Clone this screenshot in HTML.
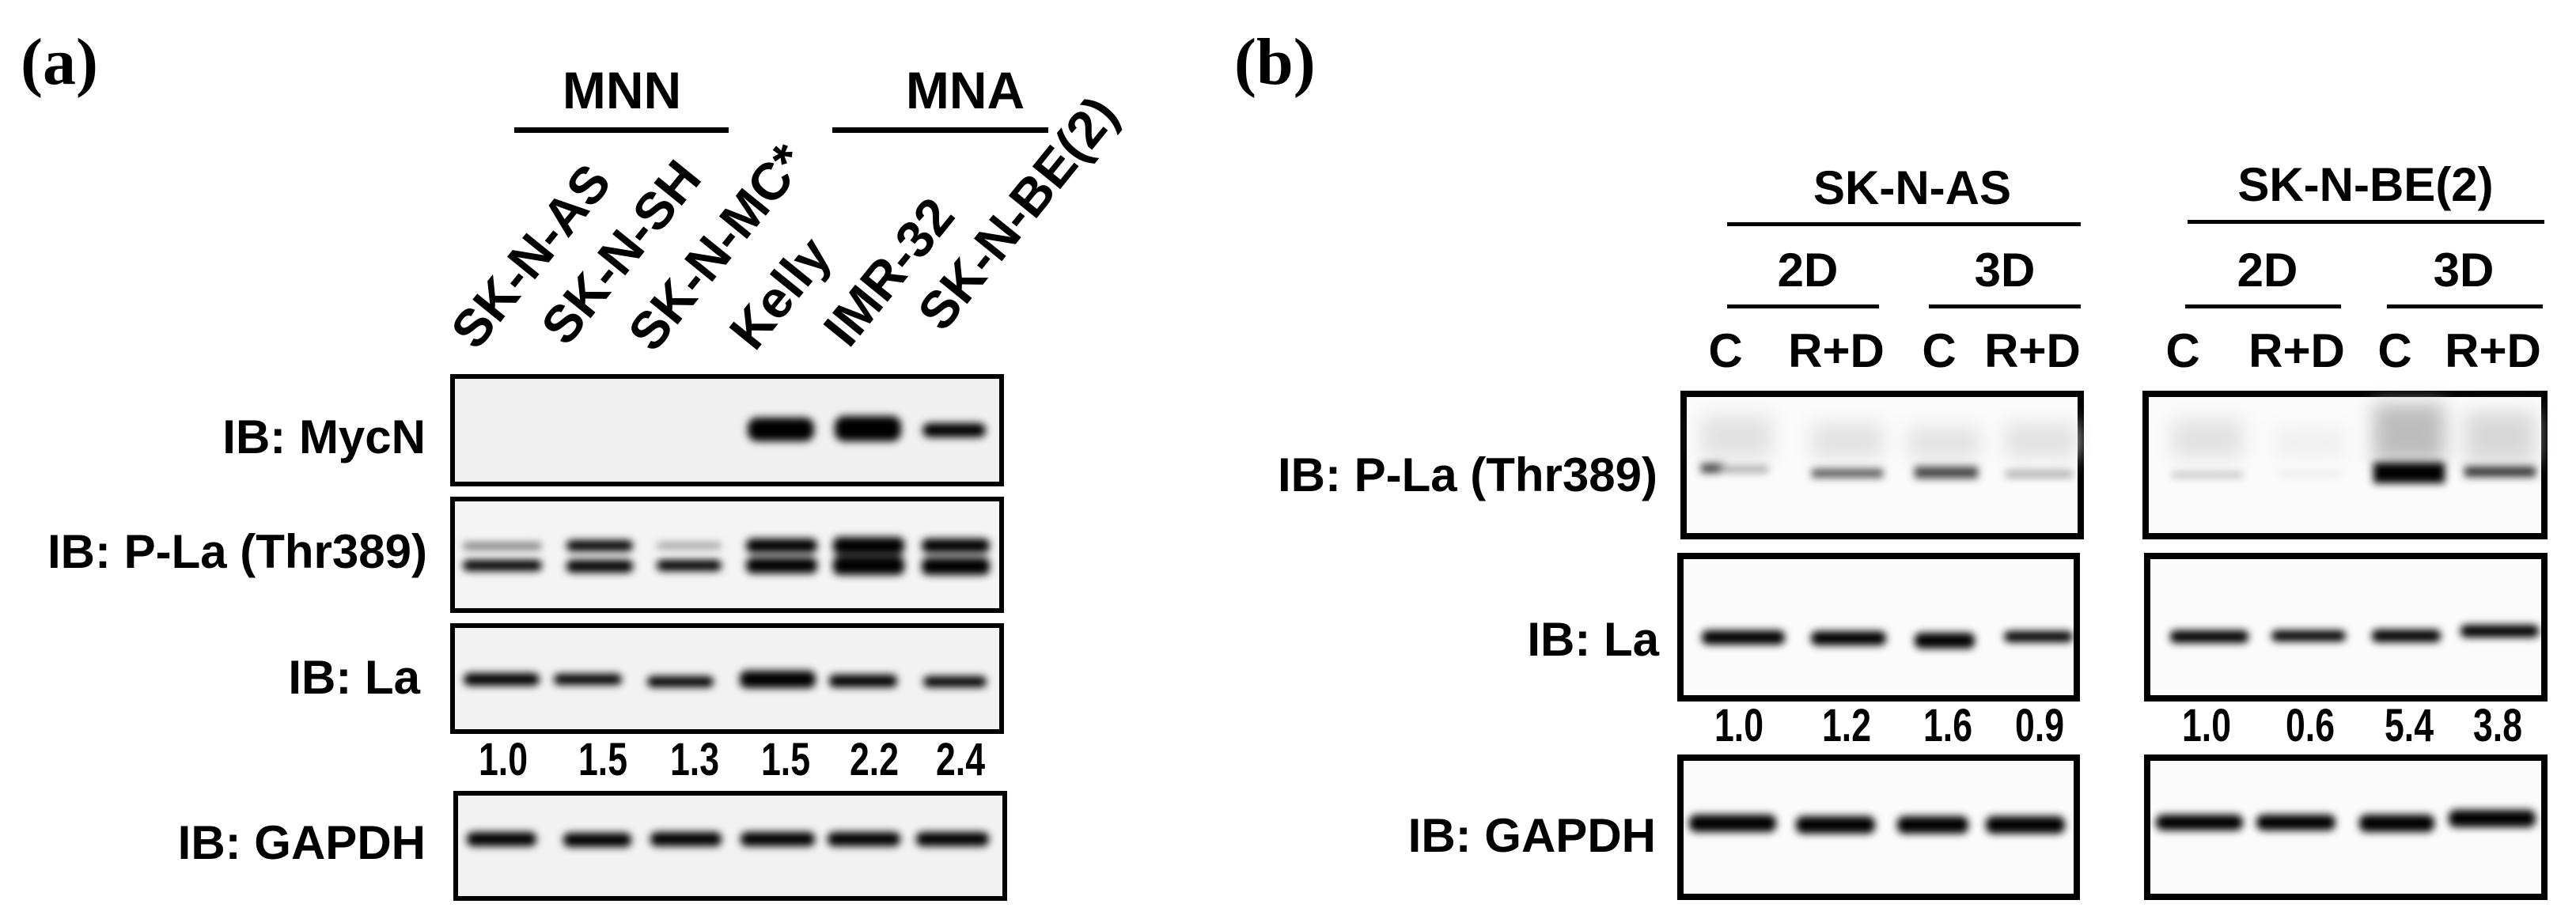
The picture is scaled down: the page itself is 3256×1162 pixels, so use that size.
<!DOCTYPE html>
<html><head><meta charset="utf-8"><style>
html,body{margin:0;padding:0;background:#fff;}
svg{display:block;}
text{font-family:"Liberation Sans",sans-serif;font-weight:bold;fill:#000;}
</style></head><body>
<svg width="3256" height="1162" viewBox="0 0 3256 1162" xmlns="http://www.w3.org/2000/svg">
<defs>
<filter id="b" x="-50%" y="-100%" width="200%" height="300%"><feGaussianBlur stdDeviation="5"/></filter>
<filter id="b2" x="-50%" y="-100%" width="200%" height="300%"><feGaussianBlur stdDeviation="12"/></filter>
</defs>
<text x="26" y="106" style="font-family:'Liberation Serif',serif;font-size:84px;">(a)</text>
<text x="1560" y="106" style="font-family:'Liberation Serif',serif;font-size:84px;">(b)</text>

<!-- Panel a headers -->
<text x="786" y="137" font-size="66" text-anchor="middle">MNN</text>
<rect x="650" y="161" width="271" height="7"/>
<text x="1220" y="137" font-size="66" text-anchor="middle">MNA</text>
<rect x="1052" y="161" width="273" height="7"/>

<g font-size="66">
<text transform="translate(602,445) rotate(-51)">SK-N-AS</text>
<text transform="translate(716,440) rotate(-51)">SK-N-SH</text>
<text transform="translate(826,448) rotate(-51)">SK-N-MC*</text>
<text transform="translate(954,446) rotate(-51)">Kelly</text>
<text transform="translate(1073,442) rotate(-51)">IMR-32</text>
<text transform="translate(1192,422) rotate(-51)">SK-N-BE(2)</text>
</g>

<g font-size="60" text-anchor="end">
<text x="538" y="573">IB: MycN</text>
<text x="540" y="718">IB: P-La (Thr389)</text>
<text x="531" y="877">IB: La</text>
<text x="538" y="1086">IB: GAPDH</text>
</g>

<!-- boxes a -->
<rect x="572" y="476" width="694" height="136" fill="#f0f0f0" stroke="#000" stroke-width="6"/>
<rect x="572" y="631" width="694" height="141" fill="#f4f4f4" stroke="#000" stroke-width="6"/>
<rect x="572" y="791" width="694" height="134" fill="#f2f2f2" stroke="#000" stroke-width="6"/>
<rect x="576" y="1003" width="694" height="133" fill="#f2f2f2" stroke="#000" stroke-width="6"/>

<g filter="url(#b)">
<rect x="945" y="528" width="84" height="30" rx="12"/>
<rect x="1055" y="526" width="84" height="32" rx="12"/>
<rect x="1166" y="535" width="80" height="18" rx="9"/>
<rect x="585" y="686" width="100" height="9" rx="5" fill="#777"/>
<rect x="585" y="708" width="100" height="14" rx="7"/>
<rect x="716" y="683" width="84" height="14" rx="7"/>
<rect x="716" y="708" width="84" height="16" rx="7"/>
<rect x="830" y="686" width="82" height="8" rx="5" fill="#999"/>
<rect x="830" y="708" width="82" height="14" rx="7"/>
<rect x="943" y="681" width="90" height="18" rx="8"/>
<rect x="943" y="705" width="90" height="20" rx="8"/>
<rect x="1053" y="679" width="90" height="22" rx="8"/>
<rect x="1053" y="703" width="90" height="24" rx="8"/>
<rect x="1165" y="681" width="86" height="18" rx="8"/>
<rect x="1165" y="705" width="86" height="22" rx="8"/>
<rect x="586" y="851" width="96" height="16" rx="8"/>
<rect x="700" y="852" width="86" height="14" rx="7"/>
<rect x="818" y="855" width="84" height="14" rx="7"/>
<rect x="935" y="848" width="96" height="22" rx="9"/>
<rect x="1048" y="853" width="86" height="16" rx="7"/>
<rect x="1167" y="855" width="80" height="14" rx="7"/>
<rect x="590" y="1052" width="88" height="18" rx="8"/>
<rect x="712" y="1053" width="86" height="18" rx="8"/>
<rect x="822" y="1052" width="90" height="18" rx="8"/>
<rect x="936" y="1052" width="94" height="18" rx="8"/>
<rect x="1046" y="1052" width="92" height="18" rx="8"/>
<rect x="1158" y="1052" width="92" height="18" rx="8"/>
</g>

<g font-size="58" text-anchor="middle">
<text x="636" y="980" textLength="62" lengthAdjust="spacingAndGlyphs">1.0</text>
<text x="762" y="980" textLength="62" lengthAdjust="spacingAndGlyphs">1.5</text>
<text x="878" y="980" textLength="62" lengthAdjust="spacingAndGlyphs">1.3</text>
<text x="993" y="980" textLength="62" lengthAdjust="spacingAndGlyphs">1.5</text>
<text x="1105" y="980" textLength="62" lengthAdjust="spacingAndGlyphs">2.2</text>
<text x="1214" y="980" textLength="62" lengthAdjust="spacingAndGlyphs">2.4</text>
</g>

<!-- Panel b headers -->
<g font-size="60" text-anchor="middle">
<text x="2417" y="258">SK-N-AS</text>
<text x="2990" y="254">SK-N-BE(2)</text>
<text x="2285" y="362">2D</text>
<text x="2534" y="362">3D</text>
<text x="2866" y="362">2D</text>
<text x="3114" y="362">3D</text>
<text x="2181" y="464">C</text>
<text x="2321" y="464">R+D</text>
<text x="2451" y="464">C</text>
<text x="2569" y="464">R+D</text>
<text x="2759" y="464">C</text>
<text x="2903" y="464">R+D</text>
<text x="3027" y="464">C</text>
<text x="3151" y="464">R+D</text>
</g>
<rect x="2183" y="281" width="447" height="5"/>
<rect x="2765" y="278" width="451" height="5"/>
<rect x="2183" y="385" width="192" height="5"/>
<rect x="2438" y="385" width="192" height="5"/>
<rect x="2762" y="385" width="197" height="5"/>
<rect x="3017" y="385" width="197" height="5"/>

<g font-size="60" text-anchor="end">
<text x="2095" y="621">IB: P-La (Thr389)</text>
<text x="2097" y="829">IB: La</text>
<text x="2093" y="1077">IB: GAPDH</text>
</g>

<g fill="#fbfbfb" stroke="#000" stroke-width="8">
<rect x="2128" y="498" width="502" height="180"/>
<rect x="2712" y="498" width="504" height="180"/>
<rect x="2124" y="703" width="501" height="180"/>
<rect x="2714" y="703" width="502" height="180"/>
<rect x="2124" y="958" width="501" height="176"/>
<rect x="2714" y="958" width="502" height="176"/>
</g>

<g filter="url(#b2)" fill="#e2e2e2">
<rect x="2150" y="525" width="90" height="55"/>
<rect x="2290" y="535" width="90" height="45"/>
<rect x="2412" y="540" width="90" height="40"/>
<rect x="2535" y="535" width="90" height="45"/>
<rect x="2745" y="530" width="90" height="50"/>
<rect x="2875" y="540" width="90" height="40" fill="#f0f0f0"/>
<rect x="3000" y="510" width="90" height="75" fill="#bdbdbd"/>
<rect x="3115" y="520" width="90" height="65" fill="#d8d8d8"/>
</g>
<g filter="url(#b)">
<rect x="2150" y="586" width="30" height="12" fill="#444"/>
<rect x="2175" y="589" width="60" height="9" fill="#aaa"/>
<rect x="2290" y="593" width="90" height="11" fill="#555"/>
<rect x="2420" y="590" width="80" height="15" fill="#444"/>
<rect x="2535" y="595" width="85" height="9" fill="#aaa"/>
<rect x="2745" y="597" width="90" height="7" fill="#bbb"/>
<rect x="2880" y="597" width="80" height="5" fill="#e4e4e4"/>
<rect x="3000" y="585" width="90" height="26"/>
<rect x="3115" y="590" width="90" height="13" fill="#333"/>
<rect x="2151" y="797" width="105" height="18" rx="8"/>
<rect x="2289" y="798" width="95" height="18" rx="8"/>
<rect x="2420" y="800" width="76" height="20" rx="8"/>
<rect x="2533" y="798" width="87" height="14" rx="7"/>
<rect x="2743" y="797" width="99" height="16" rx="7"/>
<rect x="2871" y="797" width="94" height="14" rx="7"/>
<rect x="2998" y="796" width="87" height="16" rx="7"/>
<rect x="3110" y="790" width="99" height="16" rx="7"/>
<rect x="2135" y="1030" width="110" height="22" rx="9"/>
<rect x="2270" y="1032" width="100" height="22" rx="9"/>
<rect x="2398" y="1032" width="90" height="22" rx="9"/>
<rect x="2510" y="1032" width="100" height="22" rx="9"/>
<rect x="2725" y="1030" width="110" height="20" rx="9"/>
<rect x="2852" y="1030" width="100" height="20" rx="9"/>
<rect x="2982" y="1030" width="95" height="22" rx="9"/>
<rect x="3095" y="1024" width="110" height="22" rx="9"/>
</g>

<g font-size="58" text-anchor="middle">
<text x="2198" y="937" textLength="62" lengthAdjust="spacingAndGlyphs">1.0</text>
<text x="2334" y="937" textLength="62" lengthAdjust="spacingAndGlyphs">1.2</text>
<text x="2462" y="937" textLength="62" lengthAdjust="spacingAndGlyphs">1.6</text>
<text x="2578" y="937" textLength="62" lengthAdjust="spacingAndGlyphs">0.9</text>
<text x="2789" y="937" textLength="62" lengthAdjust="spacingAndGlyphs">1.0</text>
<text x="2920" y="937" textLength="62" lengthAdjust="spacingAndGlyphs">0.6</text>
<text x="3045" y="937" textLength="62" lengthAdjust="spacingAndGlyphs">5.4</text>
<text x="3157" y="937" textLength="62" lengthAdjust="spacingAndGlyphs">3.8</text>
</g>
</svg>
</body></html>
